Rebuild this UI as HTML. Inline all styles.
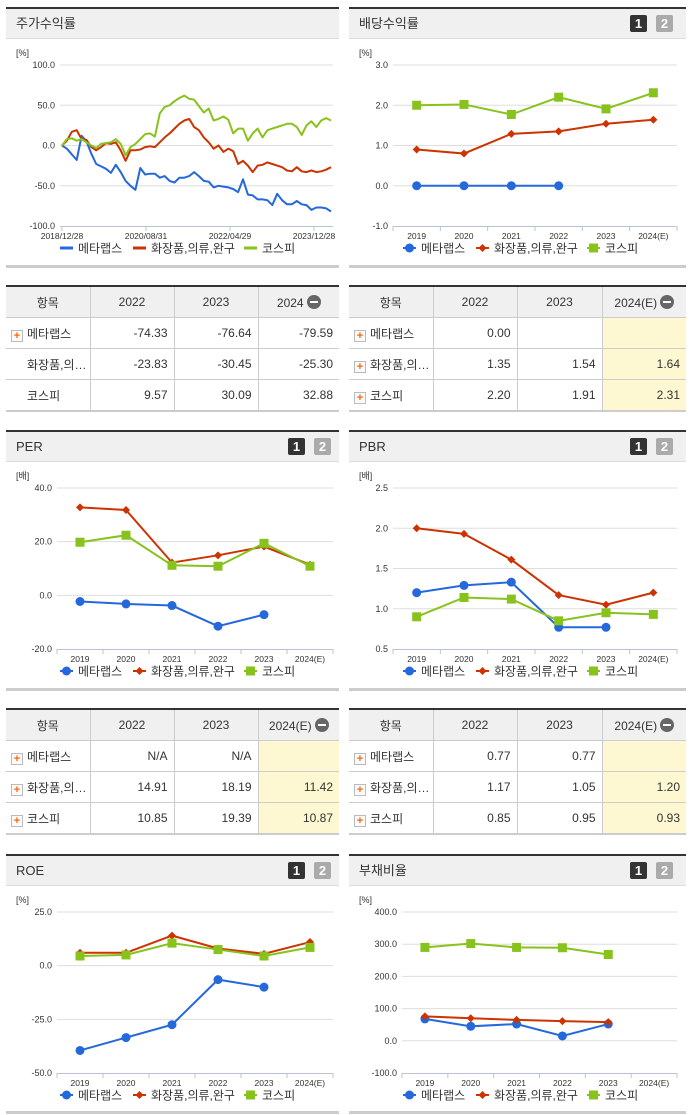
<!DOCTYPE html>
<html><head><meta charset="utf-8">
<style>
body{margin:0;width:691px;height:1115px;background:#fff;position:relative;overflow:hidden;font-family:"Liberation Sans","Noto Sans CJK KR",sans-serif;color:#333}
.panel{position:absolute;width:333px}
.bar{position:absolute;left:0;right:0;top:0;height:2px;background:#333}
.hdr{position:absolute;left:0;right:0;top:2px;height:30px;background:#f0f0f0;border-bottom:1px solid #ddd;font-size:13px;line-height:30px;padding-left:10px;box-sizing:border-box}
.btn{position:absolute;top:8px;width:17px;height:17px;border-radius:2px;color:#fff;font-size:13px;font-weight:bold;line-height:17px;text-align:center}
.b1{background:#333}.b2{background:#aaa}
.foot{position:absolute;left:0;right:0;height:3px;background:#ccc}
svg{position:absolute;left:0;top:0}
table{position:absolute;border-collapse:collapse;font-size:12px;table-layout:fixed}
td,th{border:1px solid #ccc;height:30px;padding:0 6px;font-weight:normal}
th{background:#f0f0f0;text-align:center}
tr:first-child th{border-top:2px solid #333}
tr:last-child td{border-bottom:2px solid #ccc}
td{text-align:right}
td.l{text-align:left;padding-left:5px;white-space:nowrap;overflow:hidden}
td.l,th:first-child{border-left:none}
td:last-child,th:last-child{border-right:none}
.y{background:#fdf8d2}
.pl{display:inline-block;width:10px;height:10px;border:1px solid #bbb;background:#fafafa;color:#f60;font-size:11px;line-height:10px;text-align:center;font-weight:bold;vertical-align:-1px;margin-right:4px}
.sp{display:inline-block;width:12px;margin-right:4px}
.mn{display:inline-block;width:14px;height:14px;border-radius:7px;background:#666;vertical-align:-2px;position:relative;margin-left:3px}
.mn:after{content:"";position:absolute;left:3px;top:6px;width:8px;height:2px;background:#fff}
</style></head>
<body>

<div class="panel" style="left:6px;top:7px;height:261px"><div class="bar"></div><div class="hdr">주가수익률</div><div class="foot" style="top:258px"></div><svg id="c1" width="333" height="261"></svg></div>
<div class="panel" style="left:349px;top:7px;height:261px;width:337px"><div class="bar"></div><div class="hdr">배당수익률</div><div class="btn b1" style="left:281px">1</div><div class="btn b2" style="left:307px">2</div><div class="foot" style="top:258px"></div><svg id="c2" width="337" height="261"></svg></div>

<div class="panel" style="left:6px;top:430px;height:261px"><div class="bar"></div><div class="hdr">PER</div><div class="btn b1" style="left:282px">1</div><div class="btn b2" style="left:308px">2</div><div class="foot" style="top:258px"></div><svg id="c3" width="333" height="261"></svg></div>
<div class="panel" style="left:349px;top:430px;height:261px;width:337px"><div class="bar"></div><div class="hdr">PBR</div><div class="btn b1" style="left:281px">1</div><div class="btn b2" style="left:307px">2</div><div class="foot" style="top:258px"></div><svg id="c4" width="337" height="261"></svg></div>

<div class="panel" style="left:6px;top:854px;height:261px"><div class="bar"></div><div class="hdr">ROE</div><div class="btn b1" style="left:282px">1</div><div class="btn b2" style="left:308px">2</div><div class="foot" style="top:257px"></div><svg id="c5" width="333" height="261"></svg></div>
<div class="panel" style="left:349px;top:854px;height:261px;width:337px"><div class="bar"></div><div class="hdr">부채비율</div><div class="btn b1" style="left:281px">1</div><div class="btn b2" style="left:307px">2</div><div class="foot" style="top:257px"></div><svg id="c6" width="337" height="261"></svg></div>

<table style="left:6px;top:285px;width:333px">
<colgroup><col style="width:84px"><col style="width:84px"><col style="width:84px"><col></colgroup>
<tr><th>항목</th><th>2022</th><th>2023</th><th>2024<span class="mn"></span></th></tr>
<tr><td class="l"><span class="pl">+</span>메타랩스</td><td>-74.33</td><td>-76.64</td><td>-79.59</td></tr>
<tr><td class="l"><span class="sp"></span>화장품,의…</td><td>-23.83</td><td>-30.45</td><td>-25.30</td></tr>
<tr><td class="l"><span class="sp"></span>코스피</td><td>9.57</td><td>30.09</td><td>32.88</td></tr>
</table>
<table style="left:349px;top:285px;width:337px">
<colgroup><col style="width:84px"><col style="width:84px"><col style="width:85px"><col></colgroup>
<tr><th>항목</th><th>2022</th><th>2023</th><th>2024(E)<span class="mn"></span></th></tr>
<tr><td class="l"><span class="pl">+</span>메타랩스</td><td>0.00</td><td></td><td class="y"></td></tr>
<tr><td class="l"><span class="pl">+</span>화장품,의…</td><td>1.35</td><td>1.54</td><td class="y">1.64</td></tr>
<tr><td class="l"><span class="pl">+</span>코스피</td><td>2.20</td><td>1.91</td><td class="y">2.31</td></tr>
</table>
<table style="left:6px;top:708px;width:333px">
<colgroup><col style="width:84px"><col style="width:84px"><col style="width:84px"><col></colgroup>
<tr><th>항목</th><th>2022</th><th>2023</th><th>2024(E)<span class="mn"></span></th></tr>
<tr><td class="l"><span class="pl">+</span>메타랩스</td><td>N/A</td><td>N/A</td><td class="y"></td></tr>
<tr><td class="l"><span class="pl">+</span>화장품,의…</td><td>14.91</td><td>18.19</td><td class="y">11.42</td></tr>
<tr><td class="l"><span class="pl">+</span>코스피</td><td>10.85</td><td>19.39</td><td class="y">10.87</td></tr>
</table>
<table style="left:349px;top:708px;width:337px">
<colgroup><col style="width:84px"><col style="width:84px"><col style="width:85px"><col></colgroup>
<tr><th>항목</th><th>2022</th><th>2023</th><th>2024(E)<span class="mn"></span></th></tr>
<tr><td class="l"><span class="pl">+</span>메타랩스</td><td>0.77</td><td>0.77</td><td class="y"></td></tr>
<tr><td class="l"><span class="pl">+</span>화장품,의…</td><td>1.17</td><td>1.05</td><td class="y">1.20</td></tr>
<tr><td class="l"><span class="pl">+</span>코스피</td><td>0.85</td><td>0.95</td><td class="y">0.93</td></tr>
</table>

<script>
const seriesNames = ["메타랩스", "화장품,의류,완구", "코스피"];
const stockTicks = ["2018/12/28", "2020/08/31", "2022/04/29", "2023/12/28"];
const stockMeta = [0,-4,-11,-18,12,5,-10,-23,-26,-29,-34,-24,-33,-44,-50,-55,-28,-36,-35,-35,-40,-38,-44,-46,-40,-40,-38,-33,-38,-44,-45,-52,-50,-51,-52,-54,-58,-42,-61,-62,-67,-67,-68,-74,-60,-68,-73,-73,-69,-73,-74,-80,-77,-77,-78,-82];
const stockSector = [0,6,17,19,8,7,-2,-6,-2,3,2,4,-6,-19,-6,-6,-5,-2,-1,-2,4,10,15,21,27,31,33,23,19,10,4,-4,0,-8,-4,-7,-23,-19,-25,-33,-25,-24,-21,-23,-25,-27,-31,-32,-27,-32,-33,-31,-33,-32,-30,-27];
const stockKospi = [0,8,9,6,8,4,0,-3,2,3,4,8,2,-12,-2,2,8,14,15,11,40,48,50,55,59,62,58,57,49,41,46,31,33,36,32,15,21,21,6,15,21,10,19,21,23,25,27,27,23,13,25,30,23,31,34,31];

const years = ["2019", "2020", "2021", "2022", "2023", "2024(E)"];
const divMeta = [0, 0, 0, 0, null, null];
const divSector = [0.9, 0.8, 1.29, 1.35, 1.54, 1.64];
const divKospi = [2.0, 2.02, 1.77, 2.2, 1.91, 2.31];
const perMeta = [-2.3, -3.2, -3.8, -11.5, -7.2, null];
const perSector = [32.8, 31.8, 12.2, 14.91, 18.19, 11.42];
const perKospi = [19.8, 22.4, 11.2, 10.85, 19.39, 10.87];
const pbrMeta = [1.2, 1.29, 1.33, 0.77, 0.77, null];
const pbrSector = [2.0, 1.93, 1.61, 1.17, 1.05, 1.20];
const pbrKospi = [0.9, 1.14, 1.12, 0.85, 0.95, 0.93];
const roeMeta = [-39.5, -33.5, -27.5, -6.5, -10, null];
const roeSector = [6, 6, 14, 8, 5.5, 11];
const roeKospi = [4.5, 5, 10.5, 7.5, 4.5, 8.5];
const debtMeta = [68, 45, 52, 15, 52, null];
const debtSector = [76, 70, 65, 61, 58, null];
const debtKospi = [290, 302, 290, 289, 268, null];

const COLORS = ["#2468dc", "#cc3300", "#88c21c"];
const NS = "http://www.w3.org/2000/svg";
function mk(svg, tag, attrs, text) {
  const e = document.createElementNS(NS, tag);
  for (const k in attrs) e.setAttribute(k, attrs[k]);
  if (text !== undefined) e.textContent = text;
  svg.appendChild(e);
  return e;
}
function marker(svg, kind, x, y, c) {
  let e;
  if (kind === 0) e = mk(svg, "circle", {cx: x, cy: y, r: 4.5, fill: c});
  else if (kind === 1) e = mk(svg, "path", {d: `M${x},${y-4}L${x+4},${y}L${x},${y+4}L${x-4},${y}Z`, fill: c});
  else e = mk(svg, "rect", {x: x-4.5, y: y-4.5, width: 9, height: 9, fill: c});
  return e;
}
function frame(svg, unit, plotL, plotR, yMin, yMax, step) {
  const top = 58, bot = 219;
  const ys = v => bot - (v - yMin) / (yMax - yMin) * (bot - top);
  const u = mk(svg, "text", {x: 10, y: 49, "font-size": 9, fill: "#333"}, unit);
  
  
  for (let v = yMin; v <= yMax + 1e-9; v += step) {
    const y = ys(v);
    if (v > yMin + 1e-9) {
      const g = mk(svg, "line", {x1: plotL, x2: plotR, y1: y, y2: y, stroke: "#ddd", "stroke-width": 1});
      
      
    }
    const t = mk(svg, "text", {x: plotL - 5, y: y + 3, "font-size": 9, "text-anchor": "end", fill: "#333"}, v.toFixed(1));
    
    
  }
  const ax = mk(svg, "line", {x1: plotL, x2: plotR, y1: bot + 0.5, y2: bot + 0.5, stroke: "#b8c4d4", "stroke-width": 1});
  
  
  return ys;
}
function legend(svg, lineOnly) {
  const offs = [54, 127, 238];
  seriesNames.forEach((n, i) => {
    const x = offs[i], y = 241;
    const l = mk(svg, "line", {x1: x, x2: x + 13, y1: y, y2: y, stroke: COLORS[i], "stroke-width": lineOnly ? 3 : 2});
    
    
    if (!lineOnly) marker(svg, i, x + 6.5, y, COLORS[i]);
    const t = mk(svg, "text", {x: x + 18, y: y + 4.5, "font-size": 12, fill: "#333"}, n);
    
    
  });
}
function catChart(id, unit, plotL, yMin, yMax, step, series) {
  const svg = document.getElementById(id);
  const plotR = 327 + (svg.getAttribute("width") == 337 ? 1 : 0);
  const ys = frame(svg, unit, plotL, plotR, yMin, yMax, step);
  const bw = (plotR - plotL) / years.length;
  const xs = i => plotL + bw * (i + 0.5);
  years.forEach((yr, i) => {
    const tk = mk(svg, "line", {x1: plotL + bw * i, x2: plotL + bw * i, y1: 219, y2: 224, stroke: "#b8c4d4"});
    
    
    const t = mk(svg, "text", {x: xs(i), y: 232, "font-size": 8.5, "text-anchor": "middle", fill: "#333"}, yr);
    
    
  });
  const tkE = mk(svg, "line", {x1: plotR, x2: plotR, y1: 219, y2: 224, stroke: "#b8c4d4"});
  
  
  series.forEach((vals, s) => {
    let d = "";
    vals.forEach((v, i) => { if (v !== null) d += (d ? "L" : "M") + xs(i) + "," + ys(v); });
    const p = mk(svg, "path", {d: d, fill: "none", stroke: COLORS[s], "stroke-width": 2});
    
    
    vals.forEach((v, i) => {
      if (v === null) return;
      const m = marker(svg, s, xs(i), ys(v), COLORS[s]);
      
      
    });
  });
  legend(svg, false);
}
(function () {
  const svg = document.getElementById("c1");
  const plotL = 54, plotR = 327;
  const ys = frame(svg, "[%]", plotL, plotR, -100, 100, 50);
  const n = stockMeta.length;
  const x0 = 56, x1 = 325;
  const xs = i => x0 + i * (x1 - x0) / (n - 1);
  const tickX = [56, 140, 224, 308];
  stockTicks.forEach((lab, i) => {
    const tk = mk(svg, "line", {x1: tickX[i], x2: tickX[i], y1: 219, y2: 224, stroke: "#b8c4d4"});
    
    
    const t = mk(svg, "text", {x: tickX[i], y: 232, "font-size": 8.5, "text-anchor": "middle", fill: "#333"}, lab);
    
    
  });
  [stockMeta, stockSector, stockKospi].forEach((vals, s) => {
    const d = vals.map((v, i) => (i ? "L" : "M") + xs(i).toFixed(1) + "," + ys(v).toFixed(1)).join("");
    const p = mk(svg, "path", {d: d, fill: "none", stroke: COLORS[s], "stroke-width": 2, "stroke-linejoin": "round"});
    
    
  });
  legend(svg, true);
})();
catChart("c2", "[%]", 44, -1, 3, 1, [divMeta, divSector, divKospi]);
catChart("c3", "[배]", 51, -20, 40, 20, [perMeta, perSector, perKospi]);
catChart("c4", "[배]", 44, 0.5, 2.5, 0.5, [pbrMeta, pbrSector, pbrKospi]);
catChart("c5", "[%]", 51, -50, 25, 25, [roeMeta, roeSector, roeKospi]);
catChart("c6", "[%]", 53, -100, 400, 100, [debtMeta, debtSector, debtKospi]);
</script>
</body></html>
